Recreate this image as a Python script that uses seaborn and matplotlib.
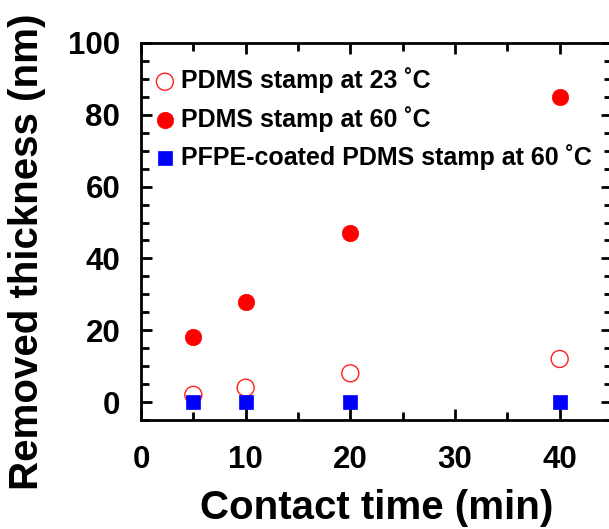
import matplotlib
matplotlib.use("Agg")
import matplotlib.pyplot as plt
import seaborn as sns
import pandas as pd
from matplotlib.ticker import MultipleLocator

sns.set_style("ticks")
plt.rcParams['font.family'] = ['Liberation Sans', 'DejaVu Sans']
plt.rcParams['font.weight'] = 'bold'
plt.rcParams['text.color'] = 'black'
plt.rcParams['axes.labelcolor'] = 'black'
plt.rcParams['xtick.color'] = 'black'
plt.rcParams['ytick.color'] = 'black'
plt.rcParams['axes.edgecolor'] = 'black'

time_min = [5, 10, 20, 40]
pdms_23 = [2, 4, 8, 12]
pdms_60 = [18, 28, 47, 85]
pfpe_60 = [0, 0, 0, 0]
labels = ["PDMS stamp at 23 ˚C", "PDMS stamp at 60 ˚C", "PFPE-coated PDMS stamp at 60 ˚C"]

fig = plt.figure(figsize=(6.09, 5.29), dpi=100)
W, H = 609, 529
left, right, top, bottom = 141, 612, 43, 420
ax = fig.add_axes([left / W, 1 - bottom / H, (right - left) / W, (bottom - top) / H])

df1 = pd.DataFrame({"t": time_min, "v": pdms_23})
df2 = pd.DataFrame({"t": time_min, "v": pdms_60})
df3 = pd.DataFrame({"t": time_min, "v": pfpe_60})

sns.scatterplot(data=df1, x="t", y="v", ax=ax, marker="o", s=150,
                facecolor="none", edgecolor="#ff2020", linewidth=1.0, label=labels[0], zorder=3)
sns.scatterplot(data=df2, x="t", y="v", ax=ax, marker="o", s=140,
                color="#ff0000", edgecolor="#ff0000", linewidth=0.5, label=labels[1], zorder=3)
sns.scatterplot(data=df3, x="t", y="v", ax=ax, marker="s", s=90,
                color="#0000ff", edgecolor="#0000ff", linewidth=0.5, label=labels[2], zorder=4)

ax.set_xlim(0, 45)
ax.set_ylim(-5, 100)
ax.xaxis.set_major_locator(MultipleLocator(10))
ax.xaxis.set_minor_locator(MultipleLocator(5))
ax.yaxis.set_major_locator(MultipleLocator(20))
ax.yaxis.set_minor_locator(MultipleLocator(5))
ax.tick_params(which='both', direction='in', top=True, right=True, width=2)
ax.tick_params(which='major', length=8, labelsize=22.5)
ax.tick_params(axis='y', which='major', pad=15)
ax.tick_params(axis='x', which='major', pad=18)
ax.tick_params(which='minor', length=6)
for lab in ax.get_xticklabels() + ax.get_yticklabels():
    lab.set_fontweight('bold')
for sp in ax.spines.values():
    sp.set_linewidth(2)

ax.set_xlabel("Contact time (min)", fontsize=29, fontweight='bold', labelpad=10)
ax.set_ylabel("Removed thickness (nm)", fontsize=29, fontweight='bold')
ax.yaxis.set_label_coords(-0.202, 0.446)

leg = ax.legend(loc='upper left', bbox_to_anchor=(-0.005, 0.975), frameon=False,
                prop={'size': 18, 'weight': 'bold'}, handletextpad=0.2,
                labelspacing=0.5, borderaxespad=0.2, handlelength=0.9)

fig.savefig("out.png", dpi=100)
